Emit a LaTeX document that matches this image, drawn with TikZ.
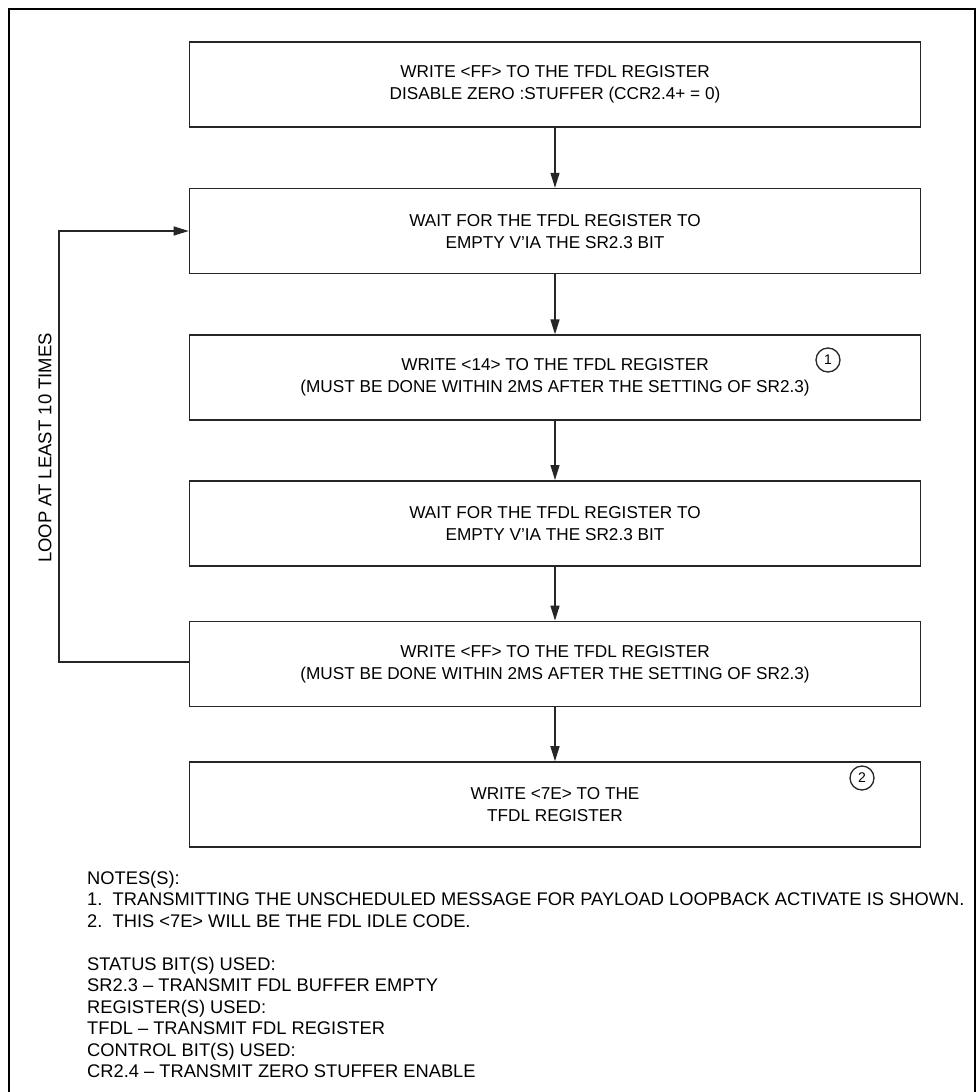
\documentclass[tikz,border=0pt]{standalone}
\usepackage{fontspec}
\setmainfont{Liberation Sans}
\usetikzlibrary{arrows.meta, positioning, calc}

\begin{document}
\begin{tikzpicture}[
    x=1pt, y=1pt,
    node distance=58pt,
    stepbox/.style={rectangle, draw=black!85, line width=1.6pt, minimum width=731pt, minimum height=85pt, align=center, font=\fontsize{17.2}{22}\selectfont, inner sep=0pt},
    numcirc/.style={circle, draw=black!85, line width=1.3pt, minimum size=24pt, inner sep=0pt, font=\fontsize{14}{14}\selectfont},
    arrow/.style={-{Triangle[length=15pt, width=9pt]}, line width=1.3pt, draw=black!85},
    notes/.style={anchor=north west, align=left, inner sep=0pt, font=\fontsize{18.3}{21.5}\selectfont}
]
\useasboundingbox (0,0) rectangle (977,-1092);

% Frame (bottom edge is cut off)
\draw[line width=2pt] (9,-1092) -- (9,-9) -- (975,-9) -- (975,-1092);

% Steps
\node[stepbox] (write_ff) at (555,-84.5) {WRITE <FF> TO THE TFDL REGISTER\\DISABLE ZERO :STUFFER (CCR2.4+ = 0)};
\node[stepbox, below=60pt of write_ff] (wait_a) {WAIT FOR THE TFDL REGISTER TO\\EMPTY V'IA THE SR2.3 BIT};
\node[stepbox, below=60pt of wait_a] (write_14) {WRITE <14> TO THE TFDL REGISTER\\(MUST BE DONE WITHIN 2MS AFTER THE SETTING OF SR2.3)};
\node[stepbox, below=59pt of write_14] (wait_b) {WAIT FOR THE TFDL REGISTER TO\\EMPTY V'IA THE SR2.3 BIT};
\node[stepbox, below=54pt of wait_b] (write_ff2) {WRITE <FF> TO THE TFDL REGISTER\\(MUST BE DONE WITHIN 2MS AFTER THE SETTING OF SR2.3)};
\node[stepbox, below=54pt of write_ff2] (write_7e) {WRITE <7E> TO THE\\TFDL REGISTER};

% Note markers
\node[numcirc] (mark1) at (828,-360) {1};
\node[numcirc] (mark2) at (862,-778) {2};

% Loop
\coordinate (loop_bot) at (59,-662);
\coordinate (loop_top) at (59,-231);
\node[rotate=90, font=\fontsize{18.5}{18.5}\selectfont] (loop_lbl) at (45,-448) {LOOP AT LEAST 10 TIMES};

% Arrows
\draw[arrow] (write_ff) -- (wait_a);
\draw[arrow] (wait_a) -- (write_14);
\draw[arrow] (write_14) -- (wait_b);
\draw[arrow] (wait_b) -- (write_ff2);
\draw[arrow] (write_ff2) -- (write_7e);
\draw[arrow] (write_ff2.west |- loop_bot) -- (loop_bot) -- (loop_top) -- (wait_a.west |- loop_top);

% Notes
\node[notes] (notes) at (87,-871) {NOTES(S):\\
1.\ \ TRANSMITTING THE UNSCHEDULED MESSAGE FOR PAYLOAD LOOPBACK ACTIVATE IS SHOWN.\\
2.\ \ THIS <7E> WILL BE THE FDL IDLE CODE.\\[21.5pt]
STATUS BIT(S) USED:\\
SR2.3 -- TRANSMIT FDL BUFFER EMPTY\\
REGISTER(S) USED:\\
TFDL -- TRANSMIT FDL REGISTER\\
CONTROL BIT(S) USED:\\
CR2.4 -- TRANSMIT ZERO STUFFER ENABLE};

\end{tikzpicture}
\end{document}
